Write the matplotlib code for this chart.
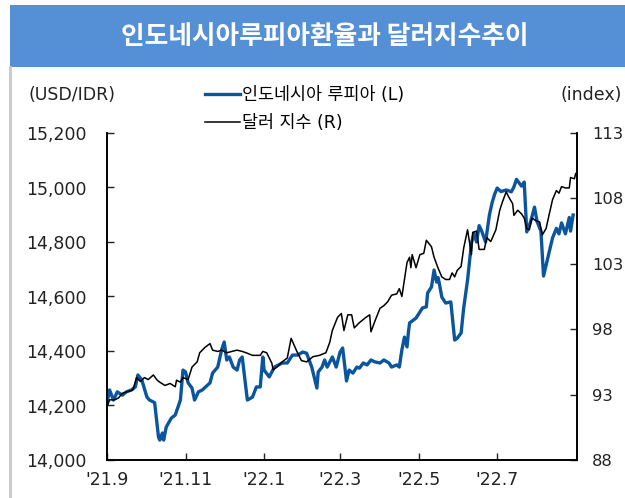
import matplotlib
matplotlib.use("Agg")
import matplotlib.pyplot as plt
from matplotlib.lines import Line2D
from matplotlib.patches import Rectangle
import pandas as pd

plt.rcParams['font.family'] = ['DejaVu Sans', 'Noto Sans CJK KR']

title = "인도네시아루피아환율과 달러지수추이"
left_unit = "(USD/IDR)"
right_unit = "(index)"
label_idr = "인도네시아 루피아 (L)"
label_dxy = "달러 지수 (R)"

idr_dates = [
    "2021-09-01", "2021-09-03", "2021-09-06", "2021-09-09", "2021-09-13", "2021-09-16",
    "2021-09-20", "2021-09-23", "2021-09-25", "2021-09-28", "2021-10-02", "2021-10-04",
    "2021-10-07", "2021-10-08", "2021-10-11", "2021-10-12", "2021-10-14", "2021-10-15",
    "2021-10-17", "2021-10-21", "2021-10-24", "2021-10-28", "2021-10-30", "2021-11-01",
    "2021-11-03", "2021-11-06", "2021-11-08", "2021-11-11", "2021-11-14", "2021-11-20",
    "2021-11-22", "2021-11-26", "2021-11-29", "2021-12-01", "2021-12-03", "2021-12-05",
    "2021-12-08", "2021-12-11", "2021-12-13", "2021-12-15", "2021-12-19", "2021-12-23",
    "2021-12-26", "2021-12-29", "2021-12-31", "2022-01-01", "2022-01-05", "2022-01-09",
    "2022-01-15", "2022-01-19", "2022-01-23", "2022-01-27", "2022-01-31", "2022-02-03",
    "2022-02-07", "2022-02-11", "2022-02-12", "2022-02-15", "2022-02-17", "2022-02-19",
    "2022-02-23", "2022-02-26", "2022-03-01", "2022-03-03", "2022-03-06", "2022-03-08",
    "2022-03-11", "2022-03-14", "2022-03-16", "2022-03-19", "2022-03-22", "2022-03-25",
    "2022-03-28", "2022-04-01", "2022-04-04", "2022-04-08", "2022-04-10", "2022-04-14",
    "2022-04-16", "2022-04-18", "2022-04-20", "2022-04-22", "2022-04-23", "2022-04-24",
    "2022-04-29", "2022-05-04", "2022-05-07", "2022-05-08", "2022-05-11", "2022-05-13",
    "2022-05-15", "2022-05-16", "2022-05-17", "2022-05-19", "2022-05-22", "2022-05-26",
    "2022-05-29", "2022-05-31", "2022-06-03", "2022-06-05", "2022-06-08", "2022-06-11",
    "2022-06-13", "2022-06-15", "2022-06-17", "2022-06-19", "2022-06-22", "2022-06-25",
    "2022-06-27", "2022-06-29", "2022-07-01", "2022-07-04", "2022-07-08", "2022-07-12",
    "2022-07-14", "2022-07-16", "2022-07-18", "2022-07-20", "2022-07-22", "2022-07-24",
    "2022-07-27", "2022-07-30", "2022-08-01", "2022-08-04", "2022-08-06", "2022-08-09",
    "2022-08-13", "2022-08-16", "2022-08-18", "2022-08-20", "2022-08-23", "2022-08-26",
    "2022-08-27", "2022-08-29",
]
idr_values = [
    14210, 14257, 14220, 14250, 14238, 14250,
    14257, 14268, 14312, 14294, 14231, 14220,
    14213, 14210, 14084, 14073, 14099, 14073,
    14121, 14154, 14165, 14220, 14330, 14323,
    14283, 14264, 14220, 14250, 14257, 14283,
    14319, 14341, 14404, 14433, 14367, 14378,
    14341, 14330, 14367, 14378, 14220, 14231,
    14268, 14268, 14378, 14330, 14305, 14341,
    14356, 14356, 14385, 14385, 14396, 14392,
    14341, 14264, 14323, 14341, 14367, 14341,
    14378, 14341, 14396, 14411, 14290, 14330,
    14319, 14341, 14337, 14356, 14349, 14367,
    14360, 14356, 14367, 14356, 14341, 14349,
    14341, 14404, 14451, 14415, 14466, 14503,
    14521, 14558, 14562, 14613, 14635, 14697,
    14653, 14670, 14650, 14598, 14576, 14580,
    14440, 14447, 14466, 14558, 14660, 14795,
    14833, 14800, 14860, 14840, 14800, 14900,
    14943, 14975, 14998, 14985, 14991, 14984,
    15002, 15030, 15017, 15005, 15020, 14837,
    14875, 14928, 14875, 14840, 14675, 14735,
    14815, 14850, 14830, 14870, 14830, 14890,
    14840, 14899,
]

dxy_dates = [
    "2021-09-01", "2021-09-03", "2021-09-07", "2021-09-10", "2021-09-13", "2021-09-16",
    "2021-09-21", "2021-09-24", "2021-09-27", "2021-09-30", "2021-10-03", "2021-10-07",
    "2021-10-10", "2021-10-12", "2021-10-16", "2021-10-20", "2021-10-24", "2021-10-25",
    "2021-10-28", "2021-10-30", "2021-11-03", "2021-11-06", "2021-11-10", "2021-11-12",
    "2021-11-16", "2021-11-20", "2021-11-22", "2021-11-26", "2021-11-29", "2021-12-03",
    "2021-12-07", "2021-12-11", "2021-12-15", "2021-12-18", "2021-12-23", "2021-12-29",
    "2021-12-31", "2022-01-03", "2022-01-07", "2022-01-08", "2022-01-11", "2022-01-15",
    "2022-01-19", "2022-01-22", "2022-01-26", "2022-01-30", "2022-02-03", "2022-02-08",
    "2022-02-13", "2022-02-18", "2022-02-21", "2022-02-23", "2022-02-27", "2022-03-02",
    "2022-03-04", "2022-03-07", "2022-03-10", "2022-03-12", "2022-03-16", "2022-03-21",
    "2022-03-24", "2022-03-25", "2022-03-28", "2022-04-01", "2022-04-04", "2022-04-07",
    "2022-04-10", "2022-04-14", "2022-04-16", "2022-04-18", "2022-04-20", "2022-04-22",
    "2022-04-24", "2022-04-25", "2022-04-26", "2022-04-29", "2022-05-02", "2022-05-05",
    "2022-05-07", "2022-05-11", "2022-05-13", "2022-05-16", "2022-05-19", "2022-05-22",
    "2022-05-25", "2022-05-27", "2022-05-29", "2022-05-31", "2022-06-03", "2022-06-05",
    "2022-06-08", "2022-06-11", "2022-06-12", "2022-06-15", "2022-06-17", "2022-06-21",
    "2022-06-23", "2022-06-26", "2022-06-30", "2022-07-03", "2022-07-05", "2022-07-08",
    "2022-07-10", "2022-07-13", "2022-07-14", "2022-07-17", "2022-07-20", "2022-07-22",
    "2022-07-24", "2022-07-26", "2022-07-28", "2022-07-31", "2022-08-03", "2022-08-05",
    "2022-08-08", "2022-08-10", "2022-08-13", "2022-08-16", "2022-08-18", "2022-08-20",
    "2022-08-23", "2022-08-26", "2022-08-27", "2022-08-30", "2022-08-31",
]
dxy_values = [
    92.05, 92.6, 92.6, 92.75, 93.1, 93.2,
    93.35, 94.3, 94.0, 94.3, 94.15, 94.5,
    94.1, 93.95, 93.7, 93.85, 93.6, 94.1,
    93.95, 94.3, 94.15, 95.1, 95.5, 96.2,
    96.6, 96.9, 96.4, 96.3, 96.4, 96.2,
    96.3, 96.4, 96.3, 96.2, 96.0, 96.0,
    96.3, 96.2, 95.4, 94.9, 95.1, 95.5,
    95.8, 97.3, 96.4, 95.6, 95.5, 95.9,
    96.0, 96.2, 97.0, 97.9, 98.9, 99.2,
    97.9, 99.1, 99.1, 98.1, 98.5, 98.9,
    99.1, 97.8, 98.6, 99.6, 99.8, 100.1,
    100.6, 100.7, 101.1, 100.5, 101.8, 103.1,
    103.5, 102.7, 103.7, 102.7, 103.7, 103.8,
    104.8, 104.3, 103.5, 102.7, 102.0, 101.8,
    101.8, 102.3, 102.0, 102.5, 102.8, 104.2,
    105.6, 103.7, 105.4, 105.5, 104.1, 104.1,
    105.0, 104.7, 105.6, 107.1, 107.7, 108.5,
    108.1, 107.6, 106.7, 107.1, 106.8, 106.5,
    105.7, 105.6, 106.5, 106.3, 106.2, 105.2,
    105.7, 106.6, 107.9, 108.6, 108.4, 108.9,
    108.8, 108.8, 109.6, 109.5, 109.9,
]

x_tick_dates = ["2021-09-01", "2021-11-01", "2022-01-01", "2022-03-01", "2022-05-01", "2022-07-01"]
x_tick_labels = ["'21.9", "'21.11", "'22.1", "'22.3", "'22.5", "'22.7"]
x_range = ["2021-09-01", "2022-09-01"]
left_ticks = [14000, 14200, 14400, 14600, 14800, 15000, 15200]
right_ticks = [88, 93, 98, 103, 108, 113]

fig = plt.figure(figsize=(6.25, 4.98), dpi=100)

# title banner
fig.patches.append(Rectangle((10 / 625, 1 - 67 / 498), 615 / 625, 62 / 498,
                             transform=fig.transFigure, facecolor='#558FD6',
                             edgecolor='none', zorder=0))
fig.text(0.52, 1 - 37 / 498, title, color='white', fontsize=18.5, fontweight='bold',
         family=['Noto Sans CJK KR'], ha='center', va='center')
# left gray border
fig.lines.append(Line2D([10 / 625, 10 / 625], [0, 1 - 67 / 498], transform=fig.transFigure,
                        color='#C8C8C8', linewidth=2))

ax = fig.add_axes([107 / 625, 1 - 460 / 498, 470 / 625, 327 / 498])
ax2 = ax.twinx()

l1, = ax.plot(pd.to_datetime(idr_dates), idr_values, color='#0B559F', linewidth=2.4,
              label=label_idr)
l2, = ax2.plot(pd.to_datetime(dxy_dates), dxy_values, color='black', linewidth=1.1,
               label=label_dxy)

ax.set_xlim(pd.to_datetime(x_range[0]), pd.to_datetime(x_range[1]))
ax.set_ylim(left_ticks[0], left_ticks[-1])
ax2.set_ylim(right_ticks[0], right_ticks[-1])
ax.set_xticks(pd.to_datetime(x_tick_dates))
ax.set_xticklabels(x_tick_labels)
ax.set_yticks(left_ticks)
ax.set_yticklabels([f"{v:,}" for v in left_ticks])
ax2.set_yticks(right_ticks)

for a in (ax, ax2):
    a.spines['top'].set_visible(False)
    for s in a.spines.values():
        s.set_linewidth(1.2)
ax.tick_params(axis='x', direction='in', length=5, width=1, pad=8, labelsize=12.5, colors='#222222')
ax.tick_params(axis='y', direction='in', length=5, width=1, pad=15, labelsize=12.5, colors='#222222')
ax2.tick_params(axis='y', direction='in', length=5, width=1, pad=11, labelsize=11.8, colors='#222222')

fig.text(28 / 625, 1 - 95 / 498, left_unit, fontsize=12.5, va='center', ha='left', color='#222222')
fig.text(622 / 625, 1 - 95 / 498, right_unit, fontsize=12.5, va='center', ha='right', color='#222222')

fig.legend(handles=[l1, l2], loc='upper left', bbox_to_anchor=(205 / 625, 1 - 86 / 498),
           frameon=False, fontsize=12.5, handlelength=2.0, handletextpad=0.15,
           labelspacing=0.6, borderpad=0, borderaxespad=0)

fig.savefig("out.png", dpi=100)
